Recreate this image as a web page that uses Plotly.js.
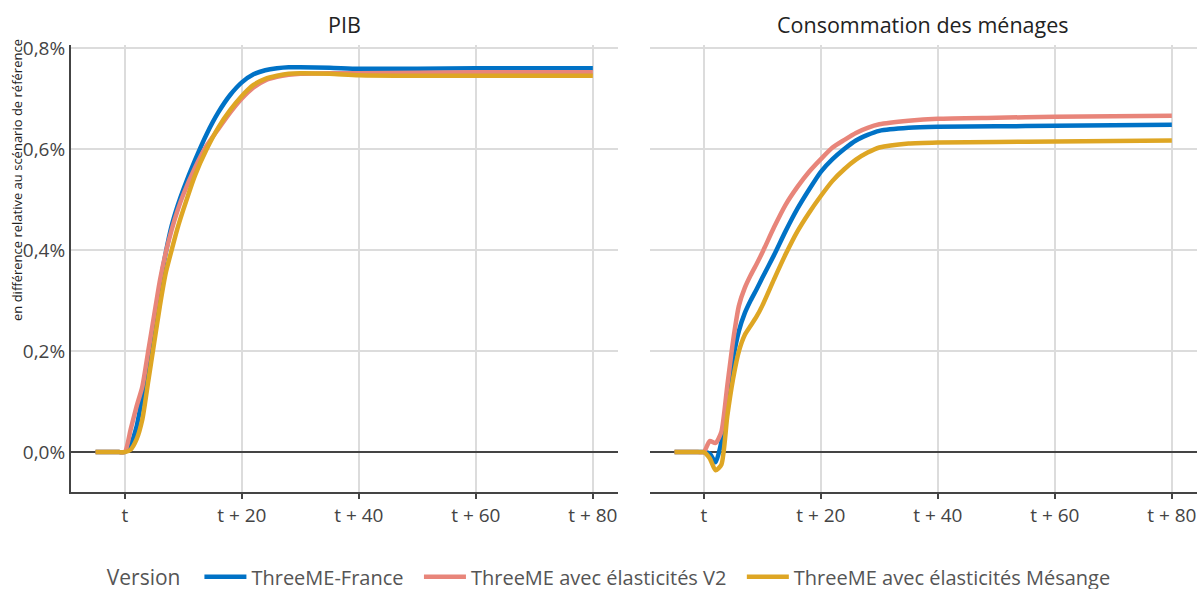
<!DOCTYPE html>
<html>
<head>
<meta charset="utf-8">
<script src="https://cdn.plot.ly/plotly-3.0.1.min.js"></script>
<style>html,body{margin:0;padding:0;background:#fff;}#chart{width:1197px;height:589px;}</style>
</head>
<body>
<div id="chart"></div>
<script>
const years = [-5,-4,-3,-2,-1,0,1,2,3,4,5,6,7,8,9,10,12,14,16,18,20,22,24,26,28,30,35,40,50,60,70,80];
const xTickVals = [0,20,40,60,80];
const xTickText = ["t","t + 20","t + 40","t + 60","t + 80"];
const yTickVals = [0,0.2,0.4,0.6,0.8];
const yTickText = ["0,0%","0,2%","0,4%","0,6%","0,8%"];
const panelTitles = ["PIB","Consommation des ménages"];
const yTitle = "en différence relative au scénario de référence";
const legendTitle = "Version";
const seriesNames = ["ThreeME-France","ThreeME avec élasticités V2","ThreeME avec élasticités Mésange"];
const seriesColors = ["#0072C6","#E8857A","#DEA624"];

// PIB (% difference)
const pibFrance   = [0,0,0,0,0,0,0.015,0.05,0.11,0.17,0.25,0.33,0.395,0.448,0.487,0.52,0.578,0.63,0.673,0.707,0.732,0.748,0.756,0.76,0.762,0.762,0.761,0.759,0.759,0.76,0.76,0.76];
const pibV2       = [0,0,0,0,0,0,0.045,0.09,0.13,0.20,0.27,0.34,0.395,0.44,0.478,0.51,0.563,0.607,0.64,0.672,0.70,0.722,0.736,0.743,0.747,0.749,0.75,0.75,0.751,0.752,0.752,0.752];
const pibMesange  = [0,0,0,0,0,0,0.005,0.025,0.065,0.14,0.215,0.29,0.355,0.40,0.443,0.48,0.548,0.60,0.643,0.677,0.705,0.727,0.739,0.745,0.749,0.75,0.749,0.746,0.745,0.745,0.745,0.745];

// Consommation des ménages (% difference)
const consoFrance  = [0,0,0,0,0,0,-0.003,-0.02,0.02,0.11,0.185,0.24,0.275,0.30,0.322,0.345,0.39,0.438,0.482,0.52,0.555,0.58,0.60,0.617,0.628,0.636,0.642,0.644,0.645,0.646,0.647,0.648];
const consoV2      = [0,0,0,0,0,0,0.022,0.018,0.04,0.13,0.22,0.29,0.325,0.35,0.372,0.395,0.445,0.49,0.525,0.555,0.58,0.603,0.618,0.632,0.642,0.649,0.656,0.66,0.662,0.664,0.665,0.666];
const consoMesange = [0,0,0,0,0,0,-0.012,-0.036,-0.025,0.07,0.145,0.20,0.232,0.25,0.268,0.29,0.342,0.392,0.437,0.474,0.507,0.537,0.56,0.579,0.593,0.603,0.611,0.613,0.614,0.615,0.616,0.617];

const pibSeries = [pibFrance, pibV2, pibMesange];
const consoSeries = [consoFrance, consoV2, consoMesange];

const pad = '\u00a0\u00a0';
const traces = [];
pibSeries.forEach((s, i) => {
  traces.push({x: years, y: s, type: 'scatter', mode: 'lines', name: seriesNames[i] + pad,
    legendgroup: seriesNames[i], showlegend: true,
    line: {color: seriesColors[i], width: 4.5, shape: 'spline', smoothing: 0.6},
    xaxis: 'x', yaxis: 'y'});
});
consoSeries.forEach((s, i) => {
  traces.push({x: years, y: s, type: 'scatter', mode: 'lines', name: seriesNames[i] + pad,
    legendgroup: seriesNames[i], showlegend: false,
    line: {color: seriesColors[i], width: 4.5, shape: 'spline', smoothing: 0.6},
    xaxis: 'x2', yaxis: 'y2'});
});

const tickFont = {family: 'Open Sans', size: 19, color: '#444'};
const xCommon = {
  range: [-9.2, 84.3], tickvals: xTickVals, ticktext: xTickText,
  showgrid: true, gridcolor: '#dcdcdc', gridwidth: 1.5,
  showline: true, linecolor: '#444', linewidth: 2,
  ticks: 'outside', ticklen: 5, tickcolor: '#444', tickwidth: 1.5,
  tickfont: tickFont, zeroline: false, fixedrange: true
};
const yCommon = {
  range: [-0.079, 0.806], tickvals: yTickVals, ticktext: yTickText,
  showgrid: true, gridcolor: '#dcdcdc', gridwidth: 1.5,
  zeroline: true, zerolinecolor: '#444', zerolinewidth: 2,
  tickfont: tickFont, fixedrange: true
};

const layout = {
  width: 1197, height: 589,
  margin: {l: 71, r: 0, t: 45, b: 97, autoexpand: false},
  paper_bgcolor: '#fff', plot_bgcolor: '#fff',
  font: {family: 'Open Sans', color: '#444'},
  xaxis: Object.assign({}, xCommon, {domain: [0, 0.4858], anchor: 'y'}),
  xaxis2: Object.assign({}, xCommon, {domain: [0.5142, 1], anchor: 'y2'}),
  yaxis: Object.assign({}, yCommon, {domain: [0, 1], anchor: 'x',
    showline: true, linecolor: '#444', linewidth: 2, ticks: ''}),
  yaxis2: Object.assign({}, yCommon, {domain: [0, 1], anchor: 'x2', matches: 'y',
    showline: false, showticklabels: false, ticks: ''}),
  annotations: [
    {text: panelTitles[0], x: 0.2429, y: 1, xref: 'paper', yref: 'paper', xanchor: 'center', yanchor: 'bottom',
     yshift: 4, showarrow: false, font: {family: 'Open Sans', size: 21.5, color: '#222'}},
    {text: panelTitles[1], x: 0.7571, y: 1, xref: 'paper', yref: 'paper', xanchor: 'center', yanchor: 'bottom',
     yshift: 4, showarrow: false, font: {family: 'Open Sans', size: 21.5, color: '#222'}},
    {text: yTitle, textangle: -90, x: 0, y: 0, xref: 'paper', yref: 'paper', showarrow: false,
     xanchor: 'center', yanchor: 'middle', font: {family: 'Open Sans', size: 13, color: '#222'}}
  ],
  showlegend: true,
  legend: {orientation: 'h', x: 0.030, xanchor: 'left', y: -0.146, yanchor: 'top',
    title: {text: legendTitle + '\u00a0\u00a0', font: {family: 'Open Sans', size: 21, color: '#555'}},
    font: {family: 'Open Sans', size: 20, color: '#555'}, itemwidth: 42, traceorder: 'normal'}
};
// y-title annotation positioned in pixels -> convert to paper coords
const plotW = 1197 - 71, plotH = 589 - 45 - 97;
layout.annotations[2].x = (17 - 71) / plotW;
layout.annotations[2].y = (589 - 97 - 180) / plotH;

Plotly.newPlot('chart', traces, layout, {displayModeBar: false, staticPlot: true});
</script>
</body>
</html>
